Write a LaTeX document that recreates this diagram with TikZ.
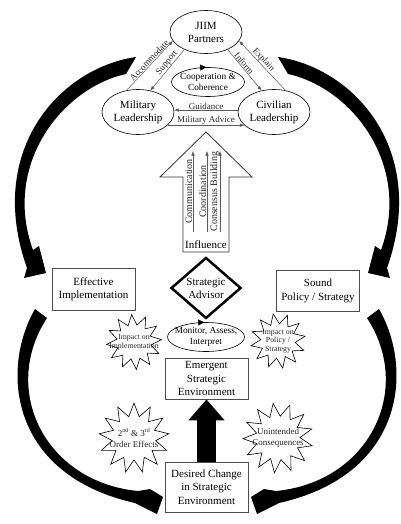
\documentclass[tikz,border=0pt]{standalone}
\usepackage{fontspec}
\setmainfont{Liberation Serif}
\usetikzlibrary{shapes.geometric, arrows.meta}

\begin{document}
\begin{tikzpicture}[x=1pt, y=-1pt,
  ovalo/.style={draw, ellipse, line width=0.6pt, inner sep=0pt, align=center,
    minimum width=72pt, minimum height=45pt, font=\fontsize{11}{13}\selectfont},
  caja/.style={draw=black!70, line width=0.8pt, align=center, inner ysep=1pt,
    minimum width=83pt, font=\fontsize{11}{13.3}\selectfont},
  flechita/.style={draw=black!65, line width=0.5pt, -{Latex[length=4.5pt, width=3.5pt]}},
  etiqueta/.style={inner sep=0.5pt, text=black!85, font=\fontsize{9}{10}\selectfont},
  estrella/.style={draw, star, star points=12, star point ratio=1.6, line width=0.6pt, inner sep=0pt},
  textoestrella/.style={align=center, inner sep=0pt, text=black!85, font=\fontsize{9}{10.5}\selectfont},
  giro/.style={-{Triangle[length=6pt, width=6pt]}}
]

\useasboundingbox (0,0) rectangle (400,524);

% Flechas curvas izquierda
\fill[black] (136,57) .. controls (60,68) and (-15,150) .. (27,268) -- (24,278) -- (46,273) -- (39,246) -- (33,250) .. controls (2,165) and (62,88) .. (126,74) -- cycle;
\fill[black] (35,309) .. controls (0,370) and (10,475) .. (135,503) -- (157,514) -- (163,497) -- (150,489) -- (138,491) .. controls (45,482) and (0,390) .. (47,318) -- cycle;

% Flechas curvas derecha
\begin{scope}[shift={(414,0)}, xscale=-1]
\fill[black] (136,57) .. controls (60,68) and (-15,150) .. (27,268) -- (24,278) -- (46,273) -- (39,246) -- (33,250) .. controls (2,165) and (62,88) .. (126,74) -- cycle;
\fill[black] (35,309) .. controls (0,370) and (10,475) .. (135,503) -- (157,514) -- (163,497) -- (150,489) -- (138,491) .. controls (45,482) and (0,390) .. (47,318) -- cycle;
\end{scope}

% Triangulo de liderazgo
\node[ovalo, minimum height=43pt] (jiim) at (206,32) {JIIM\\Partners};
\node[ovalo] (mil) at (138,112) {Military\\Leadership};
\node[ovalo] (civ) at (274,112) {Civilian\\Leadership};

% Cooperacion
\node[ovalo, inner xsep=-2pt, minimum width=73pt, minimum height=29pt, font=\fontsize{9.3}{11}\selectfont] (coop) at (208,82) {Cooperation \&\\Coherence};
\draw[giro] (coop.120) -- (coop.97);

% Relaciones
\draw[flechita] (mil.118) -- (jiim.195) node[etiqueta, pos=0.55, sloped, above] (lacc) {Accommodate};
\draw[flechita] (jiim.219) -- (mil.60) node[etiqueta, pos=0.4, sloped, above] (lsup) {Support};
\draw[flechita] (jiim.321) -- (civ.120) node[etiqueta, pos=0.4, sloped, above] (linf) {Inform};
\draw[flechita] (civ.62) -- (jiim.345) node[etiqueta, pos=0.55, sloped, above] (lexp) {Explain};
\draw[flechita] (civ.177) -- (mil.3) node[etiqueta, midway, above] (lgui) {Guidance};
\draw[flechita] (mil.-24) -- (civ.204) node[etiqueta, midway, above] (ladv) {Military Advice};

% Influencia
\draw[black!80, line width=0.8pt] (183,252) -- (183,177) -- (160,177) -- (206,132) -- (252,177) -- (229,177) -- (229,252) -- cycle;
\node[font=\fontsize{11}{13}\selectfont] (infl) at (206,245) {Influence};
\coordinate (com1) at (193,232);
\coordinate (com2) at (193,151);
\coordinate (coo1) at (207,232);
\coordinate (coo2) at (207,151);
\coordinate (con1) at (220,232);
\coordinate (con2) at (220,151);
\draw[flechita] (com1) -- (com2) node[etiqueta, midway, sloped, above, font=\fontsize{10}{12}\selectfont] (lcom) {Communication};
\draw[flechita] (coo1) -- (coo2) node[etiqueta, midway, sloped, above, font=\fontsize{10}{12}\selectfont] (lcoo) {Coordination};
\draw[flechita] (con1) -- (con2) node[etiqueta, midway, sloped, above, font=\fontsize{10}{12}\selectfont] (lcon) {Consensus Building};

% Asesor
\node[diamond, draw, line width=2.5pt, aspect=1.15, minimum width=70pt, minimum height=61pt, inner sep=0pt, align=center, font=\fontsize{11}{13}\selectfont] (asesor) at (206,288) {Strategic\\Advisor};

% Monitorear
\node[ovalo, inner xsep=-4pt, minimum width=74pt, minimum height=29pt, font=\fontsize{9.3}{11}\selectfont] (monitor) at (206,337) {Monitor, Assess,\\Interpret};
\draw[giro] (monitor.120) -- (monitor.97);

% Cajas
\node[caja, minimum height=42pt] (efect) at (93.5,289.5) {Effective\\Implementation};
\node[caja, minimum height=41pt] (sound) at (318,291) {Sound\\Policy / Strategy};
\node[caja, minimum height=41pt] (emerg) at (206.5,378.5) {Emergent\\Strategic\\Environment};
\node[caja, minimum height=50pt] (deseo) at (206.5,487) {Desired Change\\in Strategic\\Environment};

% Flecha negra
\draw[line width=19pt, -{Triangle[length=21pt, width=35pt]}] (deseo.north) -- (emerg.south);

% Estrellas
\node[estrella, minimum size=55pt, shape border rotate=5] (eimp) at (134,342) {};
\node[textoestrella, font=\fontsize{7.8}{9}\selectfont] (timp) at (eimp) {Impact on\\Implementation};
\node[estrella, minimum size=55pt, shape border rotate=10] (epol) at (278,341) {};
\node[textoestrella, font=\fontsize{7.8}{8.5}\selectfont] (tpol) at (epol) {Impact on\\Policy /\\Strategy};
\node[estrella, minimum size=70pt, star points=13] (eord) at (134,438) {};
\node[textoestrella] (tord) at (eord) {2\textsuperscript{nd} \& 3\textsuperscript{rd}\\Order Effects};
\node[estrella, minimum size=70pt, star points=13, shape border rotate=8] (euni) at (278,438) {};
\node[textoestrella] (tuni) at (euni) {Unintended\\Consequences};

\end{tikzpicture}
\end{document}
